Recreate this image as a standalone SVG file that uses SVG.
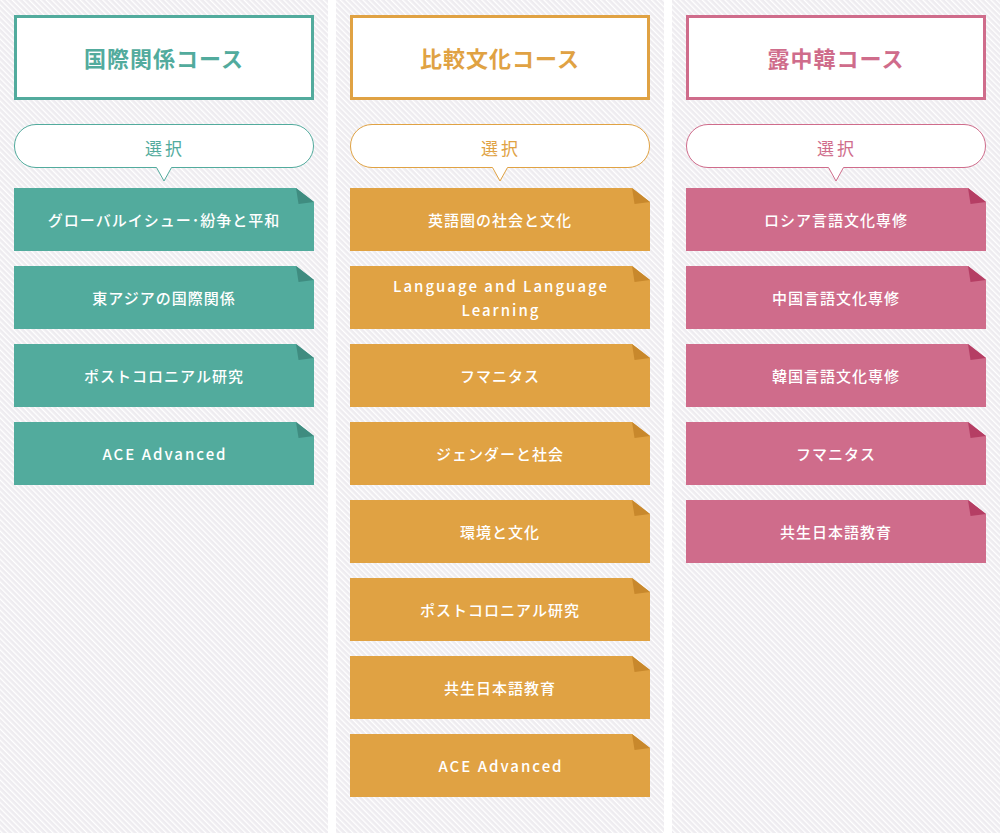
<svg xmlns="http://www.w3.org/2000/svg" xmlns:xlink="http://www.w3.org/1999/xlink" width="1000" height="833" viewBox="0 0 1000 833">
<style>
  .col { fill: url(#stripes); }
  .title-box { fill: #ffffff; stroke-width: 3; }
  .title { font-family: "Noto Sans CJK JP", "Noto Sans", sans-serif; font-size: 22px; font-weight: 700; letter-spacing: 1px; text-anchor: middle; dominant-baseline: central; }
  .bubble { fill: #ffffff; stroke-width: 1; }
  .sel { font-family: "Noto Sans CJK JP", "Noto Sans", sans-serif; font-size: 17px; font-weight: 400; letter-spacing: 3px; text-anchor: middle; dominant-baseline: central; }
  .lbl { font-family: "Noto Sans CJK JP", "Noto Sans", sans-serif; font-size: 15px; font-weight: 500; letter-spacing: 1px; fill: #ffffff; text-anchor: middle; dominant-baseline: central; }
  .lbl.en { letter-spacing: 2px; }
  .teal .title-box, .teal .bubble { stroke: #52ab9d; }
  .teal .title, .teal .sel { fill: #52ab9d; }
  .teal .card { fill: #52ab9d; }
  .teal .fold { fill: #3f8c80; }
  .orange .title-box, .orange .bubble { stroke: #e0a243; }
  .orange .title, .orange .sel { fill: #e0a243; }
  .orange .card { fill: #e0a243; }
  .orange .fold { fill: #c8882c; }
  .pink .title-box, .pink .bubble { stroke: #cf6c8b; }
  .pink .title, .pink .sel { fill: #cf6c8b; }
  .pink .card { fill: #cf6c8b; }
  .pink .fold { fill: #b53e64; }
</style>
<defs>
  <pattern id="stripes" patternUnits="userSpaceOnUse" width="4" height="4" patternTransform="rotate(-45)">
    <rect width="4" height="4" fill="#eeecf0"/>
    <rect width="1.3" height="4" fill="#ffffff"/>
  </pattern>
  <path id="cardShape" d="M0 0 H282 L300 14 V63 H0 Z"/>
  <path id="foldShape" d="M282 0 L300 14 L284.5 16 Z"/>
</defs>
<rect x="0" y="0" width="1000" height="833" fill="#ffffff"/>
<rect class="col" x="0" y="0" width="328" height="833"/>
<rect class="col" x="336" y="0" width="328" height="833"/>
<rect class="col" x="672" y="0" width="328" height="833"/>

<g id="col-kokusai" class="teal">
  <g id="kokusai-title">
    <rect class="title-box" x="15.5" y="16.5" width="297" height="82"/>
    <text class="title" x="164" y="57">国際関係コース</text>
  </g>
  <g id="kokusai-select">
    <path class="bubble" d="M36 124.5 H292 A21.5 21.5 0 0 1 292 167.5 H171.5 L164 181 L156.5 167.5 H36 A21.5 21.5 0 0 1 36 124.5 Z"/>
    <text class="sel" x="165" y="147">選択</text>
  </g>
  <g id="kokusai-1" transform="translate(14 188)"><use class="card" xlink:href="#cardShape"/><use class="fold" xlink:href="#foldShape"/><text class="lbl" x="150" y="31">グローバルイシュー･紛争と平和</text></g>
  <g id="kokusai-2" transform="translate(14 266)"><use class="card" xlink:href="#cardShape"/><use class="fold" xlink:href="#foldShape"/><text class="lbl" x="150" y="31">東アジアの国際関係</text></g>
  <g id="kokusai-3" transform="translate(14 344)"><use class="card" xlink:href="#cardShape"/><use class="fold" xlink:href="#foldShape"/><text class="lbl" x="150" y="31">ポストコロニアル研究</text></g>
  <g id="kokusai-4" transform="translate(14 422)"><use class="card" xlink:href="#cardShape"/><use class="fold" xlink:href="#foldShape"/><text class="lbl en" x="151" y="31">ACE Advanced</text></g>
</g>

<g id="col-hikaku" class="orange">
  <g id="hikaku-title">
    <rect class="title-box" x="351.5" y="16.5" width="297" height="82"/>
    <text class="title" x="500" y="57">比較文化コース</text>
  </g>
  <g id="hikaku-select">
    <path class="bubble" d="M372 124.5 H628 A21.5 21.5 0 0 1 628 167.5 H507.5 L500 181 L492.5 167.5 H372 A21.5 21.5 0 0 1 372 124.5 Z"/>
    <text class="sel" x="501" y="147">選択</text>
  </g>
  <g id="hikaku-1" transform="translate(350 188)"><use class="card" xlink:href="#cardShape"/><use class="fold" xlink:href="#foldShape"/><text class="lbl" x="150" y="31">英語圏の社会と文化</text></g>
  <g id="hikaku-2" transform="translate(350 266)"><use class="card" xlink:href="#cardShape"/><use class="fold" xlink:href="#foldShape"/><text class="lbl en" x="151" y="19">Language and Language</text><text class="lbl en" x="151" y="43">Learning</text></g>
  <g id="hikaku-3" transform="translate(350 344)"><use class="card" xlink:href="#cardShape"/><use class="fold" xlink:href="#foldShape"/><text class="lbl" x="150" y="31">フマニタス</text></g>
  <g id="hikaku-4" transform="translate(350 422)"><use class="card" xlink:href="#cardShape"/><use class="fold" xlink:href="#foldShape"/><text class="lbl" x="150" y="31">ジェンダーと社会</text></g>
  <g id="hikaku-5" transform="translate(350 500)"><use class="card" xlink:href="#cardShape"/><use class="fold" xlink:href="#foldShape"/><text class="lbl" x="150" y="31">環境と文化</text></g>
  <g id="hikaku-6" transform="translate(350 578)"><use class="card" xlink:href="#cardShape"/><use class="fold" xlink:href="#foldShape"/><text class="lbl" x="150" y="31">ポストコロニアル研究</text></g>
  <g id="hikaku-7" transform="translate(350 656)"><use class="card" xlink:href="#cardShape"/><use class="fold" xlink:href="#foldShape"/><text class="lbl" x="150" y="31">共生日本語教育</text></g>
  <g id="hikaku-8" transform="translate(350 734)"><use class="card" xlink:href="#cardShape"/><use class="fold" xlink:href="#foldShape"/><text class="lbl en" x="151" y="31">ACE Advanced</text></g>
</g>

<g id="col-rochukan" class="pink">
  <g id="rochukan-title">
    <rect class="title-box" x="687.5" y="16.5" width="297" height="82"/>
    <text class="title" x="836" y="57">露中韓コース</text>
  </g>
  <g id="rochukan-select">
    <path class="bubble" d="M708 124.5 H964 A21.5 21.5 0 0 1 964 167.5 H843.5 L836 181 L828.5 167.5 H708 A21.5 21.5 0 0 1 708 124.5 Z"/>
    <text class="sel" x="837" y="147">選択</text>
  </g>
  <g id="rochukan-1" transform="translate(686 188)"><use class="card" xlink:href="#cardShape"/><use class="fold" xlink:href="#foldShape"/><text class="lbl" x="150" y="31">ロシア言語文化専修</text></g>
  <g id="rochukan-2" transform="translate(686 266)"><use class="card" xlink:href="#cardShape"/><use class="fold" xlink:href="#foldShape"/><text class="lbl" x="150" y="31">中国言語文化専修</text></g>
  <g id="rochukan-3" transform="translate(686 344)"><use class="card" xlink:href="#cardShape"/><use class="fold" xlink:href="#foldShape"/><text class="lbl" x="150" y="31">韓国言語文化専修</text></g>
  <g id="rochukan-4" transform="translate(686 422)"><use class="card" xlink:href="#cardShape"/><use class="fold" xlink:href="#foldShape"/><text class="lbl" x="150" y="31">フマニタス</text></g>
  <g id="rochukan-5" transform="translate(686 500)"><use class="card" xlink:href="#cardShape"/><use class="fold" xlink:href="#foldShape"/><text class="lbl" x="150" y="31">共生日本語教育</text></g>
</g>
<g id="connectors"/>
</svg>
